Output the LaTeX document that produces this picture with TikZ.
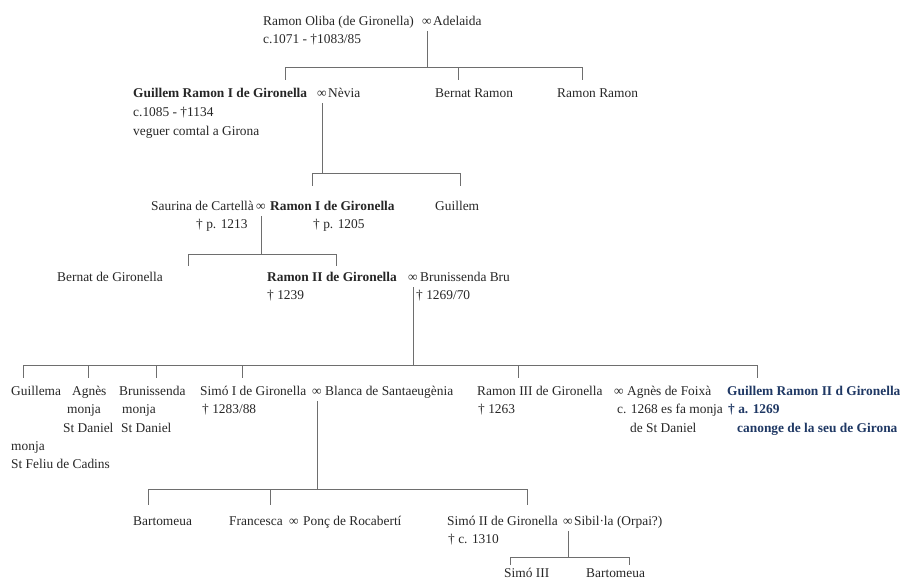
\documentclass[tikz,border=0pt]{standalone}
\usepackage{fontspec}
\setmainfont{Liberation Serif}
\definecolor{ink}{HTML}{262626}
\definecolor{rule}{HTML}{6E6E6E}
\definecolor{canon}{HTML}{1F3864}
\newcommand\famfont{\fontsize{13.4}{18}\selectfont}
\tikzset{
  pers/.style={anchor=base west, inner sep=0pt, text=ink, font=\famfont},
  heir/.style={pers, font=\famfont\bfseries},
  clergy/.style={pers, font=\famfont\bfseries, text=canon},
  marr/.style={anchor=base, inner sep=0pt, text=ink, font=\famfont},
  link/.style={draw=rule, line width=0.7pt},
  drop/.style={link, shorten <=6pt},
}
\begin{document}
\begin{tikzpicture}[x=1pt,y=-1pt]
\useasboundingbox (0,0) rectangle (907,581);

\node[pers] (oliba) at (263,25) {Ramon Oliba (de Gironella)};
\node[marr] (m0) at (427,25) {∞};
\node[pers] (adelaida) at (433,25) {Adelaida};
\node[pers] (olibad) at (263,43) {c.1071 - †1083/85};

\node[heir] (gr1) at (133,97) {Guillem Ramon I de Gironella};
\node[marr] (m1) at (322,97) {∞};
\node[pers] (nevia) at (328,97) {Nèvia};
\node[pers] (gr1d) at (133,116) {c.1085 - †1134};
\node[pers] (gr1v) at (133,135) {veguer comtal a Girona};
\node[pers] (bernatr) at (435,97) {Bernat Ramon};
\node[pers] (ramonr) at (557,97) {Ramon Ramon};

\node[pers] (saurina) at (151,210) {Saurina de Cartellà};
\node[marr] (m2) at (261,210) {∞};
\node[heir] (r1) at (270,210) {Ramon I de Gironella};
\node[pers] (guillem) at (435,210) {Guillem};
\node[pers] (saurinad) at (196,228) {† p. 1213};
\node[pers] (r1d) at (313,228) {† p. 1205};

\node[pers] (bernatg) at (57,281) {Bernat de Gironella};
\node[heir] (r2) at (267,281) {Ramon II de Gironella};
\node[marr] (m3) at (413,281) {∞};
\node[pers] (brun) at (420,281) {Brunissenda Bru};
\node[pers] (r2d) at (267,299) {† 1239};
\node[pers] (brund) at (416,299) {† 1269/70};

\node[pers] (guillema) at (11,395) {Guillema};
\node[pers] (guillemam) at (11,450) {monja};
\node[pers] (guillemas) at (11,468) {St Feliu de Cadins};
\node[pers] (agnes) at (72,395) {Agnès};
\node[pers] (agnesm) at (67,413) {monja};
\node[pers] (agness) at (63,432) {St Daniel};
\node[pers] (bruniss) at (119,395) {Brunissenda};
\node[pers] (brunissm) at (122,413) {monja};
\node[pers] (bruniss s) at (121,432) {St Daniel};
\node[pers] (simo1) at (200,395) {Simó I de Gironella};
\node[marr] (m4) at (317,395) {∞};
\node[pers] (blanca) at (325,395) {Blanca de Santaeugènia};
\node[pers] (simo1d) at (202,413) {† 1283/88};
\node[pers] (r3) at (477,395) {Ramon III de Gironella};
\node[marr] (m5) at (619,395) {∞};
\node[pers] (agnesf) at (627,395) {Agnès de Foixà};
\node[pers] (r3d) at (478,413) {† 1263};
\node[pers] (agnesfa) at (617,413) {c. 1268 es fa monja};
\node[pers] (agnesfb) at (630,432) {de St Daniel};
\node[clergy] (gr2) at (727,395) {Guillem Ramon II d Gironella};
\node[clergy] (gr2d) at (728,413) {† a. 1269};
\node[clergy] (gr2c) at (737,432) {canonge de la seu de Girona};

\node[pers] (bart) at (133,525) {Bartomeua};
\node[pers] (fran) at (229,525) {Francesca};
\node[marr] (m6) at (294,525) {∞};
\node[pers] (ponc) at (303,525) {Ponç de Rocabertí};
\node[pers] (simo2) at (447,525) {Simó II de Gironella};
\node[marr] (m7) at (568,525) {∞};
\node[pers] (sibil) at (574,525) {Sibil·la (Orpai?)};
\node[pers] (simo2d) at (448,543) {† c. 1310};

\node[pers] (simo3) at (504,577) {Simó III};
\node[pers] (bart2) at (586,577) {Bartomeua};

\coordinate (k01) at (285,67);
\coordinate (k02) at (458,67);
\coordinate (k03) at (582,67);
\draw[drop] (m0.south) -- (m0.south |- k01);
\draw[link] (k01) -- (k03);
\draw[link] (k01) -- ++(0,13);
\draw[link] (k02) -- ++(0,13);
\draw[link] (k03) -- ++(0,13);

\coordinate (k11) at (312,173);
\coordinate (k12) at (460,173);
\draw[drop] (m1.south) -- (m1.south |- k11);
\draw[link] (k11) -- (k12);
\draw[link] (k11) -- ++(0,13);
\draw[link] (k12) -- ++(0,13);

\coordinate (k21) at (188,254);
\coordinate (k22) at (336,254);
\draw[drop] (m2.south) -- (m2.south |- k21);
\draw[link] (k21) -- (k22);
\draw[link] (k21) -- ++(0,12);
\draw[link] (k22) -- ++(0,12);

\coordinate (k31) at (23,365);
\coordinate (k32) at (88,365);
\coordinate (k33) at (156,365);
\coordinate (k34) at (242,365);
\coordinate (k35) at (518,365);
\coordinate (k36) at (757,365);
\draw[drop] (m3.south) -- (m3.south |- k31);
\draw[link] (k31) -- (k36);
\draw[link] (k31) -- ++(0,13);
\draw[link] (k32) -- ++(0,13);
\draw[link] (k33) -- ++(0,13);
\draw[link] (k34) -- ++(0,13);
\draw[link] (k35) -- ++(0,13);
\draw[link] (k36) -- ++(0,13);

\coordinate (k41) at (148,489);
\coordinate (k42) at (270,489);
\coordinate (k43) at (527,489);
\draw[drop] (m4.south) -- (m4.south |- k41);
\draw[link] (k41) -- (k43);
\draw[link] (k41) -- ++(0,16);
\draw[link] (k42) -- ++(0,16);
\draw[link] (k43) -- ++(0,16);

\coordinate (k51) at (510,557);
\coordinate (k52) at (629,557);
\draw[drop] (m7.south) -- (m7.south |- k51);
\draw[link] (k51) -- (k52);
\draw[link] (k51) -- ++(0,8);
\draw[link] (k52) -- ++(0,8);
\end{tikzpicture}
\end{document}
